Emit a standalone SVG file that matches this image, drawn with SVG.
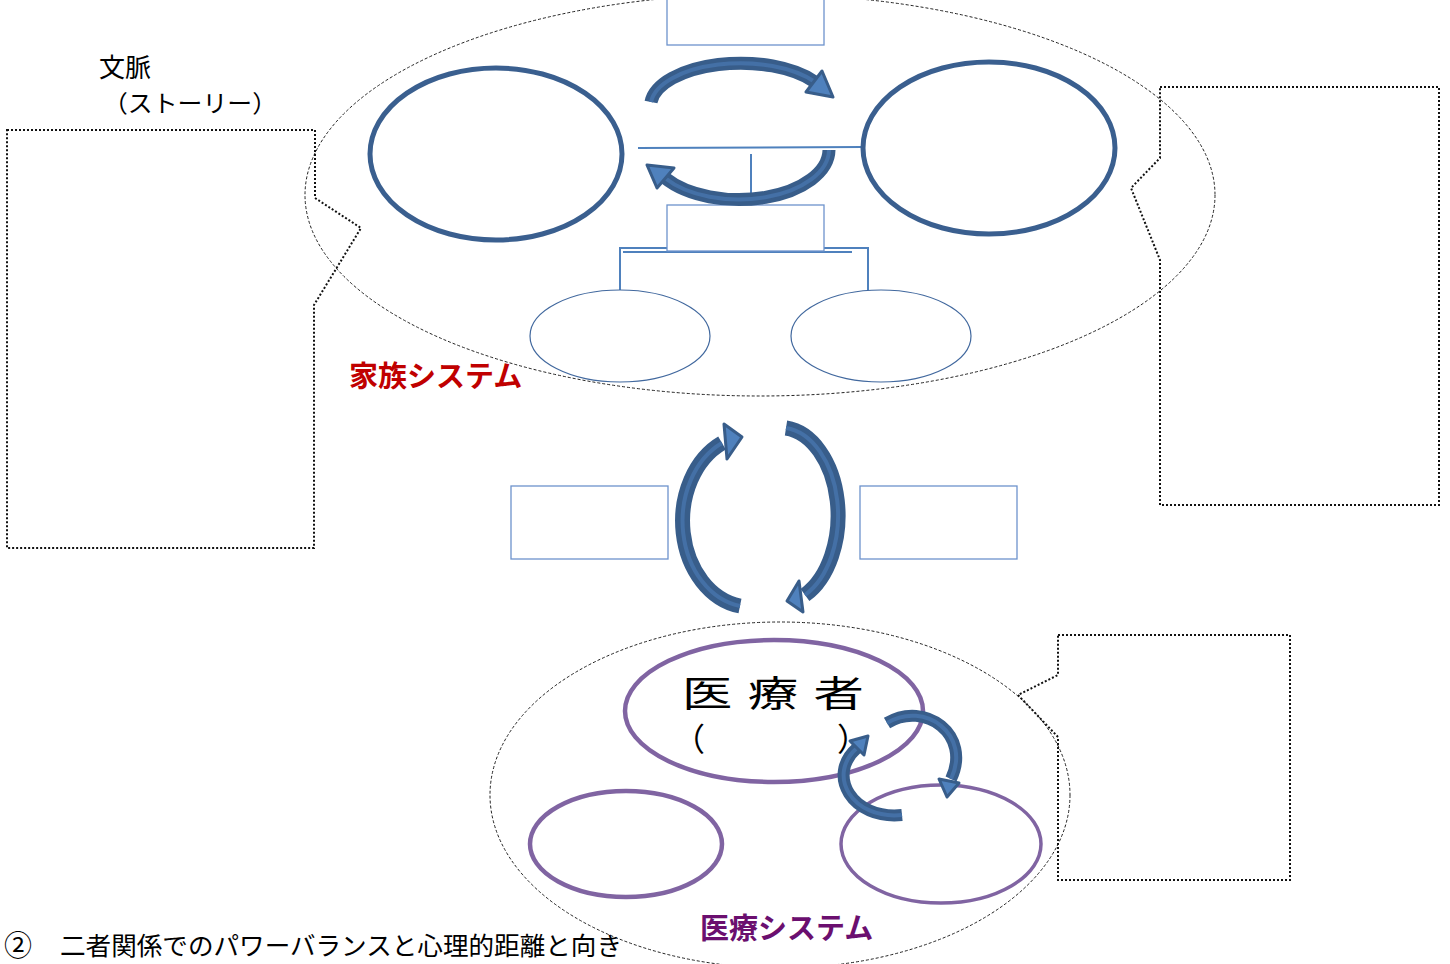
<svg xmlns="http://www.w3.org/2000/svg" width="1450" height="964" viewBox="0 0 1450 964">
<style>
.sys{fill:none;stroke:#222;stroke-width:1;stroke-dasharray:3 2}
.callout{fill:none;stroke:#111;stroke-width:2;stroke-dasharray:2 2}
.fam{fill:none;stroke:#3a5f8f;stroke-width:5}
.child{fill:none;stroke:#41689e;stroke-width:1.2}
.med{fill:none;stroke:#8064a2;stroke-width:4.5}
.box{fill:#fff;stroke:#6d93cc;stroke-width:1.3}
.line{fill:none;stroke:#4f81bd;stroke-width:2}
.abody{fill:none;stroke:#385d8a;stroke-linecap:butt}
.ainner{fill:none;stroke:#4470a6;stroke-width:4}
.ahead{fill:#4f81bd;stroke:#385d8a;stroke-width:3;stroke-linejoin:round}
.t{font-family:"Noto Sans CJK JP","Noto Sans",sans-serif}
</style>
<rect width="1450" height="964" fill="#fff"/>

<g id="family-system">
<ellipse class="sys" cx="760" cy="195" rx="455" ry="201"/>
</g>
<g id="medical-system">
<ellipse class="sys" cx="780" cy="795" rx="290" ry="173"/>
</g>

<g id="context-callout">
<path class="callout" d="M7,130 H315 V198 L361,228 L325,287 L314,305 V548 H7 Z"/>
</g>
<g id="right-callout">
<path class="callout" d="M1160,87 H1439 V505 H1160 V260 L1131,188 L1160,158 Z"/>
</g>
<g id="medical-callout">
<path class="callout" d="M1058,635 H1290 V880 H1058 V737 L1018,695 L1058,675 Z"/>
</g>

<g id="connectors">
<line class="line" x1="638" y1="148" x2="863" y2="147"/>
<line class="line" x1="751" y1="154" x2="751" y2="205"/>
<path class="line" d="M620,290 V248 H868 V290"/>
<line class="line" x1="623" y1="252" x2="852" y2="252"/>
</g>

<g id="top-box"><rect class="box" x="667" y="-2" width="157" height="47"/></g>
<g id="mid-box"><rect class="box" x="667" y="205" width="157" height="46"/></g>
<g id="left-box"><rect class="box" x="511" y="486" width="157" height="73"/></g>
<g id="right-box"><rect class="box" x="860" y="486" width="157" height="73"/></g>

<g id="parent-left"><ellipse class="fam" cx="496" cy="154" rx="126" ry="86"/></g>
<g id="parent-right"><ellipse class="fam" cx="989" cy="148" rx="126" ry="86"/></g>
<g id="child-left"><ellipse class="child" cx="620" cy="336" rx="90" ry="46"/></g>
<g id="child-right"><ellipse class="child" cx="881" cy="336" rx="90" ry="46"/></g>

<g id="medical-staff">
<ellipse class="med" cx="774" cy="711" rx="149" ry="71"/>
<text class="t" transform="translate(682,707) scale(1.4,1)" font-size="36" letter-spacing="11">医療者</text>
<text class="t" x="673" y="751" font-size="32">（</text>
<text class="t" x="837" y="751" font-size="32">）</text>
</g>
<g id="medical-left"><ellipse class="med" cx="626" cy="844" rx="96" ry="53"/></g>
<g id="medical-right"><ellipse class="med" cx="941" cy="844" rx="100" ry="59" style="stroke-width:3.5"/></g>

<g id="arrows">
<path class="abody" stroke-width="13" d="M651,102 A90,43 0 0 1 815,82"/>
<path class="ainner" d="M651,102 A90,43 0 0 1 815,82"/>
<polygon class="ahead" points="822,71 833,97 806,92"/>

<path class="abody" stroke-width="13" d="M829,150 A90,50 0 0 1 665,178"/>
<path class="ainner" d="M829,150 A90,50 0 0 1 665,178"/>
<polygon class="ahead" points="674,168 647,165 657,188"/>

<path class="abody" stroke-width="15" d="M740,606 A68,86 0 0 1 722,443"/>
<path class="ainner" d="M740,606 A68,86 0 0 1 722,443"/>
<polygon class="ahead" points="724,424 742,437 727,459"/>

<path class="abody" stroke-width="15" d="M786,428 A58,88 0 0 1 805,595"/>
<path class="ainner" d="M786,428 A58,88 0 0 1 805,595"/>
<polygon class="ahead" points="799,581 787,601 803,612"/>

<path class="abody" stroke-width="12" d="M887,723 C925,700 972,735 951,779"/>
<path class="ainner" d="M887,723 C925,700 972,735 951,779"/>
<polygon class="ahead" points="939,779 959,783 947,797"/>

<path class="abody" stroke-width="12" d="M902,815 C852,820 826,775 857,748"/>
<path class="ainner" d="M902,815 C852,820 826,775 857,748"/>
<polygon class="ahead" points="850,741 868,736 864,755"/>
</g>

<g id="labels">
<text class="t" x="99" y="77" font-size="26">文脈</text>
<text class="t" x="103" y="112" font-size="24" textLength="174" lengthAdjust="spacingAndGlyphs">（ストーリー）</text>
<text class="t" x="349" y="387" font-size="29" font-weight="bold" fill="#c00000">家族システム</text>
<text class="t" x="700" y="939" font-size="29" font-weight="bold" fill="#6b0f6f">医療システム</text>
<text class="t" x="4" y="956" font-size="28">②</text>
<text class="t" x="60" y="955" font-size="25.5" textLength="562" lengthAdjust="spacingAndGlyphs">二者関係でのパワーバランスと心理的距離と向き</text>
</g>
</svg>
